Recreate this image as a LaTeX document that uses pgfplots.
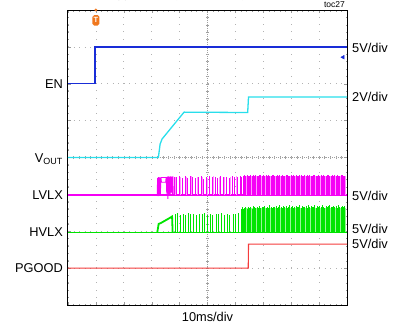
\documentclass[border=0pt]{standalone}
\usepackage{pgfplots}
\pgfplotsset{compat=1.18}
\usepackage{pgfplotstable}
\usepackage{fontspec}
\setmainfont{Liberation Sans}
\definecolor{enblue}{RGB}{25,45,215}
\definecolor{vcyan}{RGB}{40,222,235}
\definecolor{lmag}{RGB}{245,0,245}
\definecolor{lpink}{RGB}{255,150,255}
\definecolor{hgreen}{RGB}{0,228,0}
\definecolor{lgreen}{RGB}{150,245,150}
\definecolor{pred}{RGB}{245,60,60}
\definecolor{trig}{RGB}{240,120,30}

% sparse LVLX pulses: x, base, height
\pgfplotstableread{
x b h
3.82 2.98 0.50
3.90 2.98 0.48
4.00 2.98 0.52
4.09 2.98 0.47
4.19 2.98 0.51
4.28 2.98 0.46
4.37 2.98 0.51
4.47 2.98 0.49
4.58 2.98 0.47
4.66 2.98 0.50
4.77 2.98 0.52
4.86 2.98 0.45
4.97 2.98 0.50
5.06 2.98 0.51
5.16 2.98 0.48
5.27 2.98 0.50
5.37 2.98 0.47
5.46 2.98 0.52
5.57 2.98 0.49
5.68 2.98 0.50
5.77 2.98 0.46
5.88 2.98 0.51
5.97 2.98 0.49
6.07 2.98 0.48
6.16 2.98 0.52
6.23 2.98 0.50
}\lvlxsparse

\pgfplotstableread{
x b h
3.86 2.98 0.49
4.04 2.98 0.50
4.24 2.98 0.48
4.42 2.98 0.51
4.62 2.98 0.49
4.82 2.98 0.50
5.01 2.98 0.47
5.21 2.98 0.51
5.41 2.98 0.49
5.62 2.98 0.50
5.82 2.98 0.48
6.02 2.98 0.51
6.19 2.98 0.50
}\lvlxlight

% sparse HVLX pulses
\pgfplotstableread{
x b h
3.84 1.97 0.50
3.93 1.97 0.52
4.03 1.97 0.48
4.12 1.97 0.51
4.22 1.97 0.47
4.31 1.97 0.52
4.40 1.97 0.49
4.50 1.97 0.50
4.61 1.97 0.46
4.70 1.97 0.51
4.80 1.97 0.49
4.89 1.97 0.52
5.00 1.97 0.48
5.10 1.97 0.50
5.19 1.97 0.47
5.30 1.97 0.51
5.40 1.97 0.49
5.49 1.97 0.52
5.60 1.97 0.48
5.71 1.97 0.50
5.80 1.97 0.47
5.91 1.97 0.51
6.01 1.97 0.49
6.10 1.97 0.52
6.20 1.97 0.62
6.25 1.97 0.68
}\hvlxsparse

% dense region: x, LVLX base, LVLX height, HVLX base, HVLX height
\pgfplotstableread{
x lb lh hb hh
6.28 2.98 0.53 1.97 0.62
6.32 2.98 0.54 1.97 0.66
6.37 2.98 0.52 1.97 0.68
6.41 2.98 0.55 1.97 0.64
6.46 2.98 0.53 1.97 0.70
6.50 2.98 0.51 1.97 0.67
6.55 2.98 0.54 1.97 0.69
6.59 2.98 0.53 1.97 0.63
6.64 2.98 0.55 1.97 0.71
6.68 2.98 0.52 1.97 0.68
6.73 2.98 0.54 1.97 0.66
6.77 2.98 0.53 1.97 0.70
6.82 2.98 0.51 1.97 0.67
6.86 2.98 0.54 1.97 0.72
6.91 2.98 0.55 1.97 0.65
6.95 2.98 0.52 1.97 0.69
7.00 2.98 0.54 1.97 0.68
7.04 2.98 0.53 1.97 0.71
7.09 2.98 0.55 1.97 0.66
7.13 2.98 0.52 1.97 0.70
7.18 2.98 0.54 1.97 0.67
7.22 2.98 0.53 1.97 0.73
7.27 2.98 0.51 1.97 0.68
7.31 2.98 0.54 1.97 0.65
7.36 2.98 0.55 1.97 0.70
7.40 2.98 0.53 1.97 0.69
7.45 2.98 0.52 1.97 0.72
7.49 2.98 0.54 1.97 0.67
7.54 2.98 0.53 1.97 0.70
7.58 2.98 0.55 1.97 0.74
7.63 2.98 0.52 1.97 0.68
7.67 2.98 0.54 1.97 0.66
7.72 2.98 0.53 1.97 0.71
7.76 2.98 0.51 1.97 0.69
7.81 2.98 0.54 1.97 0.72
7.85 2.98 0.55 1.97 0.67
7.90 2.98 0.53 1.97 0.70
7.94 2.98 0.52 1.97 0.73
7.99 2.98 0.54 1.97 0.68
8.03 2.98 0.53 1.97 0.71
8.08 2.98 0.55 1.97 0.66
8.12 2.98 0.52 1.97 0.70
8.17 2.98 0.54 1.97 0.72
8.21 2.98 0.53 1.97 0.68
8.26 2.98 0.51 1.97 0.69
8.30 2.98 0.54 1.97 0.74
8.35 2.98 0.55 1.97 0.67
8.39 2.98 0.53 1.97 0.71
8.44 2.98 0.52 1.97 0.70
8.48 2.98 0.54 1.97 0.68
8.53 2.98 0.53 1.97 0.72
8.57 2.98 0.55 1.97 0.66
8.62 2.98 0.52 1.97 0.73
8.66 2.98 0.54 1.97 0.69
8.71 2.98 0.53 1.97 0.71
8.75 2.98 0.51 1.97 0.68
8.80 2.98 0.54 1.97 0.70
8.84 2.98 0.55 1.97 0.74
8.89 2.98 0.53 1.97 0.67
8.93 2.98 0.52 1.97 0.72
8.98 2.98 0.54 1.97 0.69
9.02 2.98 0.53 1.97 0.71
9.07 2.98 0.55 1.97 0.68
9.11 2.98 0.52 1.97 0.73
9.16 2.98 0.54 1.97 0.70
9.20 2.98 0.53 1.97 0.67
9.25 2.98 0.51 1.97 0.72
9.29 2.98 0.54 1.97 0.69
9.34 2.98 0.55 1.97 0.71
9.38 2.98 0.53 1.97 0.74
9.43 2.98 0.52 1.97 0.68
9.47 2.98 0.54 1.97 0.70
9.52 2.98 0.53 1.97 0.72
9.56 2.98 0.55 1.97 0.69
9.61 2.98 0.52 1.97 0.71
9.65 2.98 0.54 1.97 0.67
9.70 2.98 0.53 1.97 0.73
9.74 2.98 0.51 1.97 0.70
9.79 2.98 0.54 1.97 0.68
9.83 2.98 0.55 1.97 0.72
9.88 2.98 0.53 1.97 0.69
9.92 2.98 0.52 1.97 0.71
}\dense

\begin{document}
\begin{tikzpicture}
% centre cross with fine ticks
\begin{axis}[at={(0,0)}, anchor=south west, scale only axis,
  width=279pt, height=295pt,
  xmin=-5, xmax=5, ymin=-4, ymax=4,
  axis lines=middle, axis line style={gray!75, line width=0.5pt, -, dash pattern=on 1pt off 1pt},
  xtick={-4.8,-4.6,...,4.8}, ytick={-3.8,-3.6,...,3.8},
  xticklabels={}, yticklabels={},
  tick align=center, major tick length=3pt,
  tick style={gray!75, line width=0.4pt}]
\end{axis}
\begin{axis}[at={(0,0)}, anchor=south west, scale only axis,
  width=279pt, height=295pt,
  xmin=0, xmax=10, ymin=0, ymax=8,
  xtick={0,...,10}, ytick={0,...,8},
  minor x tick num=4, minor y tick num=4,
  xticklabels={}, yticklabels={},
  tick align=inside, major tick length=3pt, minor tick length=1.5pt,
  tick style={gray!80, line width=0.4pt},
  grid=major,
  x grid style={gray!60, line width=0.7pt, dash pattern=on 0.7pt off 6.675pt},
  y grid style={gray!60, line width=0.7pt, dash pattern=on 0.7pt off 4.88pt},
  axis line style={black, line width=1pt},
  clip=false]

% EN
\addplot[enblue, line width=1.3pt] coordinates {(0,6.0) (0.97,6.0) (0.97,7.0) (10,7.0)};
\addplot[only marks, mark=triangle*, mark options={rotate=90}, mark size=2.2pt, enblue] coordinates {(9.86,6.72)};

% VOUT
\addplot[vcyan, line width=1.3pt] coordinates {(0,4.0) (3.24,4.0) (3.30,4.36) (3.37,4.50) (4.16,5.23) (6.44,5.22) (6.47,5.64) (10,5.64)};

% LVLX
\addplot[lmag, line width=1.3pt] coordinates {(0,2.98) (10,2.98)};
\addplot[lmag, line width=0.9pt] coordinates {(3.20,2.98) (3.21,3.45) (3.23,2.95) (3.25,3.47) (3.27,2.98) (3.29,3.46) (3.31,3.00) (3.33,3.46) (3.35,3.33) (3.43,3.33) (3.50,3.33) (3.52,3.47) (3.54,3.02) (3.56,3.48) (3.58,2.88) (3.60,3.49) (3.62,3.00) (3.64,3.48) (3.66,2.98) (3.68,3.49) (3.70,3.05) (3.72,3.48) (3.74,2.98) (3.76,3.49) (3.77,2.98)};
\addplot[lmag, line width=0.9pt] coordinates {(3.33,3.47) (3.52,3.47)};
\addplot[fill=lpink, draw=none] coordinates {(6.27,2.98) (6.27,3.50) (9.95,3.50) (9.95,2.98)} -- cycle;
\addplot[draw=none, mark=none, error bars/.cd, y dir=plus, y explicit, error mark=none,
  error bar style={lpink, line width=0.7pt}] table[x=x, y=b, y error=h] {\lvlxlight};
\addplot[draw=none, mark=none, error bars/.cd, y dir=plus, y explicit, error mark=none,
  error bar style={lmag, line width=0.7pt}] table[x=x, y=b, y error=h] {\lvlxsparse};
\addplot[draw=none, mark=none, error bars/.cd, y dir=plus, y explicit, error mark=none,
  error bar style={lmag, line width=0.6pt}] table[x=x, y=lb, y error=lh] {\dense};

% HVLX
\addplot[hgreen, line width=1.3pt] coordinates {(0,1.97) (10,1.97)};
\addplot[hgreen, line width=1.8pt] coordinates {(3.20,1.97) (3.25,2.20) (3.32,2.22) (3.46,2.28) (3.60,2.34) (3.73,2.40) (3.75,1.97)};
\addplot[fill=lgreen, draw=none] coordinates {(6.30,1.97) (6.30,2.62) (9.95,2.62) (9.95,1.97)} -- cycle;
\addplot[draw=none, mark=none, error bars/.cd, y dir=plus, y explicit, error mark=none,
  error bar style={hgreen, line width=0.7pt}] table[x=x, y=b, y error=h] {\hvlxsparse};
\addplot[draw=none, mark=none, error bars/.cd, y dir=plus, y explicit, error mark=none,
  error bar style={hgreen, line width=0.6pt}] table[x=x, y=hb, y error=hh] {\dense};

% PGOOD
\addplot[pred, line width=1.1pt] coordinates {(0,1.0) (6.46,1.0) (6.47,1.65) (10,1.65)};

% trigger marker
\addplot[only marks, mark=*, mark size=1.3pt, trig] coordinates {(1,8)};
\node[fill=trig, text=white, inner sep=0pt, minimum width=7pt, minimum height=10.5pt,
  rounded corners=1.8pt, font=\bfseries\fontsize{7.5}{7.5}\selectfont] at (axis cs:1,7.72) {T};

% left labels
\begin{scope}[every node/.style={anchor=base east, font=\fontsize{12.8}{14}\selectfont, inner sep=0pt, xshift=-5pt, yshift=-4.6pt}]
\node at (axis cs:0,6.0) {EN};
\node at (axis cs:0,4.0) {V\textsubscript{OUT}};
\node at (axis cs:0,2.98) {LVLX};
\node at (axis cs:0,1.97) {HVLX};
\node at (axis cs:0,1.0) {PGOOD};
\end{scope}
% right labels
\begin{scope}[every node/.style={anchor=base west, font=\fontsize{12.8}{14}\selectfont, inner sep=0pt, xshift=5pt, yshift=-4.6pt}]
\node at (axis cs:10,6.97) {5V/div};
\node at (axis cs:10,5.64) {2V/div};
\node at (axis cs:10,2.96) {5V/div};
\node at (axis cs:10,2.06) {5V/div};
\node at (axis cs:10,1.65) {5V/div};
\end{scope}
\node[anchor=base, font=\fontsize{12.8}{14}\selectfont, inner sep=0pt, yshift=-16.6pt] at (axis cs:5,0) {10ms/div};
\node[anchor=base east, font=\fontsize{8.5}{9}\selectfont, inner sep=0pt, yshift=2.2pt, xshift=-2pt] at (axis cs:10,8) {toc27};
\node[anchor=base, font=\bfseries\fontsize{13}{15}\selectfont, inner sep=0pt, yshift=12pt] at (axis cs:5,8) {V\textsubscript{OUT} = 3.3V, V\textsubscript{IN} = 3.6V, NO LOAD};
\end{axis}
\pgfresetboundingbox
\path[use as bounding box] (-68pt,-19pt) rectangle (330pt,305pt);
\end{tikzpicture}
\end{document}
